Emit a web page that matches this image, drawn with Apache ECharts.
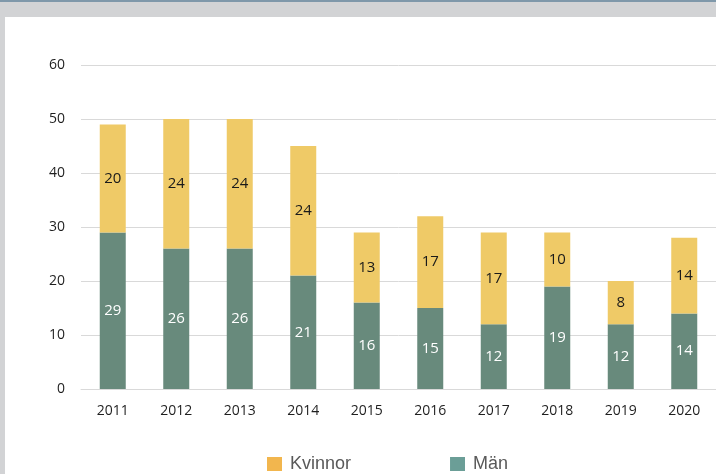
<!DOCTYPE html>
<html>
<head>
<meta charset="utf-8">
<script src="https://cdn.jsdelivr.net/npm/echarts@6/dist/echarts.min.js"></script>
<style>
html,body{margin:0;padding:0;background:#d2d3d5;}
#c{width:716px;height:474px;}
</style>
</head>
<body>
<div id="c"></div>
<script>
var years = ['2011','2012','2013','2014','2015','2016','2017','2018','2019','2020'];
var man = [29, 26, 26, 21, 16, 15, 12, 19, 12, 14];
var kvinnor = [20, 24, 24, 24, 13, 17, 17, 10, 8, 14];
var yTicks = {min: 0, max: 60, interval: 10};

var chart = echarts.init(document.getElementById('c'));
chart.setOption({
  backgroundColor: '#d2d3d5',
  animation: false,
  graphic: [
    {type: 'rect', z: -10, silent: true, shape: {x: 0, y: 0, width: 716, height: 2}, style: {fill: '#7f98aa'}},
    {type: 'rect', z: -10, silent: true, shape: {x: 5, y: 17, width: 711, height: 457}, style: {fill: '#ffffff'}}
  ],
  grid: {left: 81, width: 640, top: 65, bottom: 85, containLabel: false},
  legend: {
    left: 262, top: 450,
    itemWidth: 15, itemHeight: 14, itemGap: 99,
    icon: 'rect',
    textStyle: {fontFamily: 'Liberation Sans, Arial', fontSize: 18, color: '#595959', padding: [0,0,0,3]},
    data: [
      {name: 'Kvinnor', itemStyle: {color: '#f2b64e'}},
      {name: 'Män', itemStyle: {color: '#6b9e97'}}
    ]
  },
  xAxis: {
    type: 'category', data: years,
    axisLine: {show: true, lineStyle: {color: '#d9d9d9', width: 1}},
    axisTick: {show: false},
    axisLabel: {fontFamily: 'Open Sans', fontSize: 14, color: '#1f1f1f', margin: 15}
  },
  yAxis: {
    type: 'value', min: yTicks.min, max: yTicks.max, interval: yTicks.interval,
    axisLine: {show: false}, axisTick: {show: false},
    splitLine: {lineStyle: {color: '#d9d9d9', width: 1}},
    axisLabel: {fontFamily: 'Open Sans', fontSize: 14, color: '#1f1f1f', margin: 16}
  },
  series: [
    {
      name: 'Män', type: 'bar', stack: 't', data: man, barWidth: 26,
      itemStyle: {color: '#688a7c'},
      label: {show: true, position: 'inside', color: '#ffffff', fontFamily: 'Open Sans', fontSize: 15}
    },
    {
      name: 'Kvinnor', type: 'bar', stack: 't', data: kvinnor, barWidth: 26,
      itemStyle: {color: '#efca67'},
      label: {show: true, position: 'inside', color: '#1a1a1a', fontFamily: 'Open Sans', fontSize: 15}
    }
  ]
});
</script>
</body>
</html>
